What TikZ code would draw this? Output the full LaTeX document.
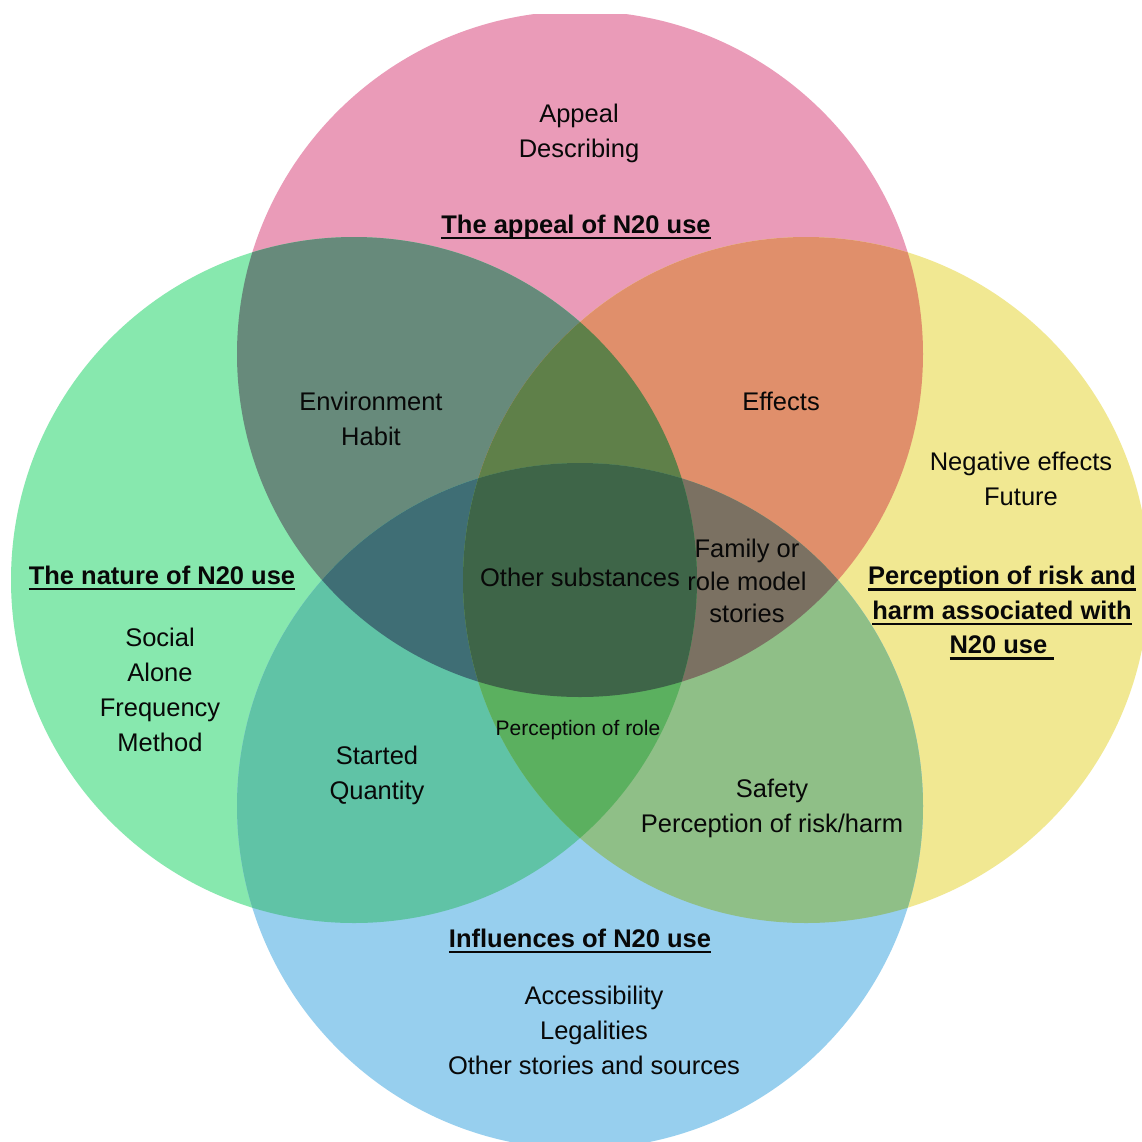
\documentclass[tikz,border=0pt]{standalone}
\usepackage{fontspec}
\setmainfont{Liberation Sans}
\definecolor{cP}{HTML}{EA9BB8}
\definecolor{cG}{HTML}{87E8AE}
\definecolor{cY}{HTML}{F1E892}
\definecolor{cB}{HTML}{97CFEE}
\definecolor{cPG}{HTML}{678A7B}
\definecolor{cPY}{HTML}{E08F6B}
\definecolor{cGB}{HTML}{60C3A6}
\definecolor{cYB}{HTML}{8FBF87}
\definecolor{cPGY}{HTML}{5F8049}
\definecolor{cPGB}{HTML}{3F6E75}
\definecolor{cPYB}{HTML}{7B7162}
\definecolor{cGYB}{HTML}{5BB05F}
\definecolor{cAll}{HTML}{3E6548}
\definecolor{ink}{HTML}{080808}
\newsavebox\ulbox
\newcommand\ulx[1]{\sbox\ulbox{#1}\rlap{\rule[-3.2pt]{\wd\ulbox}{1.35pt}}\usebox\ulbox}
\begin{document}
\begin{tikzpicture}[x=0.5pt,y=-0.5pt,
  txt/.style={font=\fontsize{12.75}{17.5}\selectfont, align=center, inner sep=0pt, text=ink},
  ttl/.style={txt, font=\fontsize{12.75}{17.25}\selectfont\bfseries},
  small/.style={txt, font=\fontsize{10.5}{13}\selectfont}]
\useasboundingbox (0,0) rectangle (1142,1142);
\fill[white] (0,0) rectangle (1142,1142);
\def\cirP{(580,354) circle[radius=171.5pt]}
\def\cirG{(354,580) circle[radius=171.5pt]}
\def\cirY{(806,580) circle[radius=171.5pt]}
\def\cirB{(580,806) circle[radius=171.5pt]}
\begin{scope}
  \clip (0,14) rectangle (1142,1142);
  % single sets
  \fill[cP] \cirP;
  \fill[cG] \cirG;
  \fill[cY] \cirY;
  \fill[cB] \cirB;
  % pairs
  \begin{scope}\clip \cirP; \fill[cPG] \cirG; \end{scope}
  \begin{scope}\clip \cirP; \fill[cPY] \cirY; \end{scope}
  \begin{scope}\clip \cirG; \fill[cGB] \cirB; \end{scope}
  \begin{scope}\clip \cirY; \fill[cYB] \cirB; \end{scope}
  % triples
  \begin{scope}\clip \cirP; \clip \cirG; \fill[cPGY] \cirY; \end{scope}
  \begin{scope}\clip \cirP; \clip \cirG; \fill[cPGB] \cirB; \end{scope}
  \begin{scope}\clip \cirP; \clip \cirY; \fill[cPYB] \cirB; \end{scope}
  \begin{scope}\clip \cirG; \clip \cirY; \fill[cGYB] \cirB; \end{scope}
  % all four
  \begin{scope}\clip \cirP; \clip \cirG; \clip \cirY; \fill[cAll] \cirB; \end{scope}
\end{scope}
% texts
\node[txt] (appeal) at (579,133) {Appeal\\Describing};
\node[ttl] (appealT) at (576,227) {\ulx{The appeal of N20 use}};
\node[txt] (env) at (371,419) {Environment\\Habit};
\node[txt] (effects) at (781,401) {Effects};
\node[txt] (neg) at (1021,479) {Negative effects\\Future};
\node[ttl] (natureT) at (162,578) {\ulx{The nature of N20 use}};
\node[txt] (nature) at (160,690) {Social\\Alone\\Frequency\\Method};
\node[txt] (other) at (580,577) {Other substances};
\node[txt, font=\fontsize{12.75}{16.25}\selectfont] (family) at (747,581) {Family or\\role model\\stories};
\node[ttl] (riskT) at (1002,613) {\ulx{Perception of risk and}\\\ulx{harm associated with}\\\ulx{N20 use\ }};
\node[small] (role) at (578,730) {Perception of role};
\node[txt] (started) at (377,775) {Started\\Quantity};
\node[txt] (safety) at (772,808) {Safety\\Perception of risk/harm};
\node[ttl] (inflT) at (580,941) {\ulx{Influences of N20 use}};
\node[txt] (infl) at (594,1030) {Accessibility\\Legalities\\Other stories and sources};
\end{tikzpicture}
\end{document}
